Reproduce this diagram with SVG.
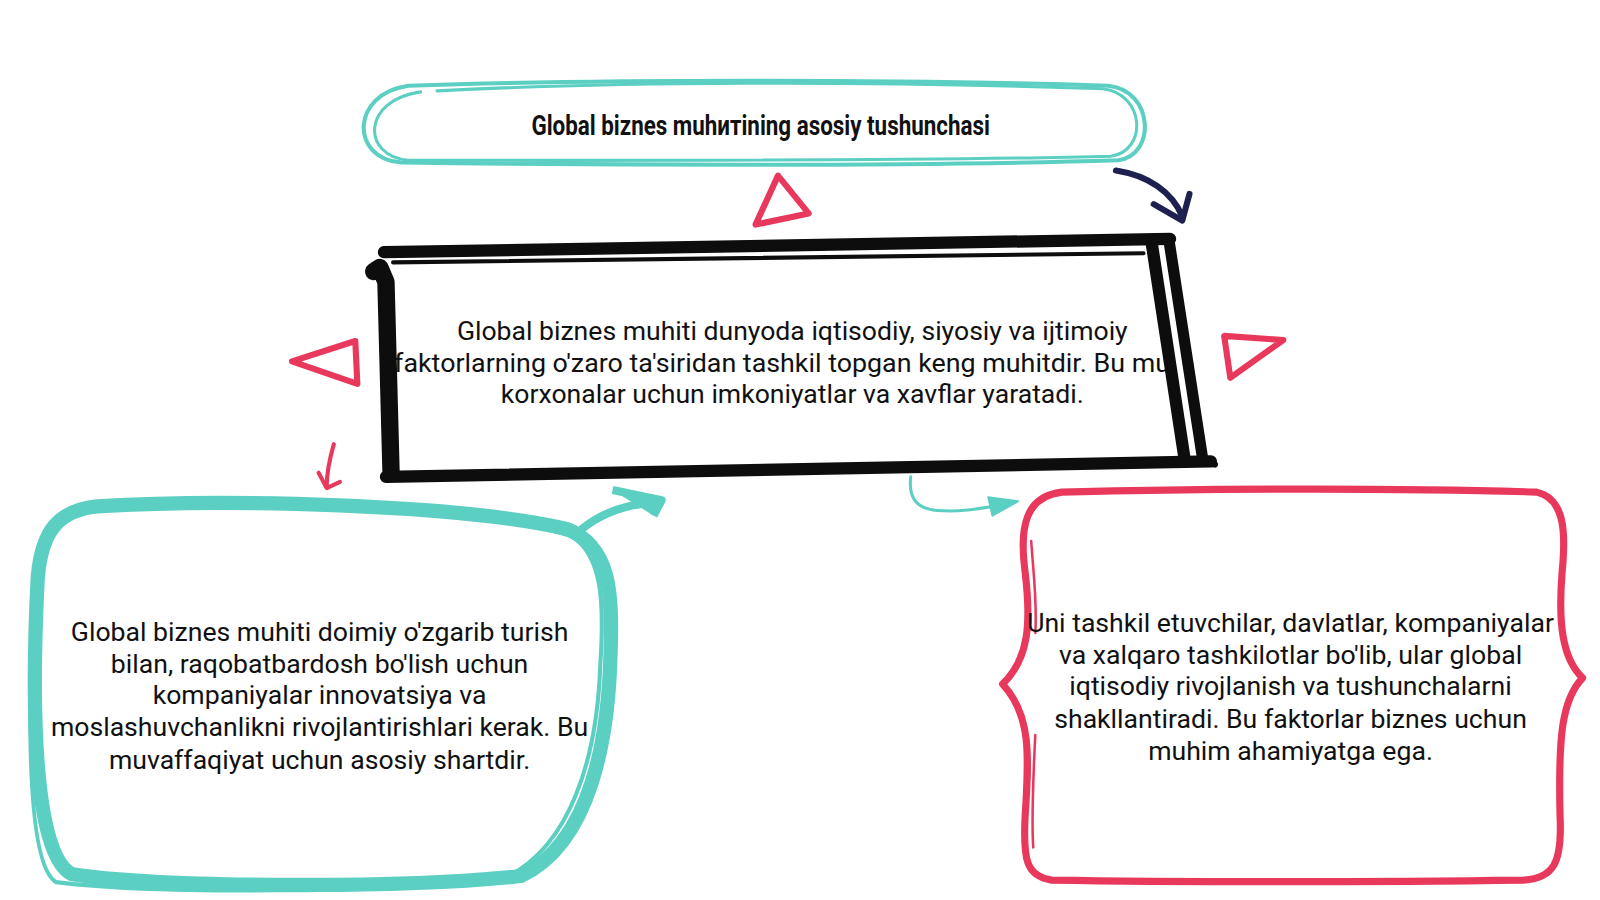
<svg xmlns="http://www.w3.org/2000/svg" width="1600" height="900" viewBox="0 0 1600 900">
<defs>
<style>
.teal{fill:none;stroke:#5ccfc3;stroke-linecap:round;stroke-linejoin:round}
.red{fill:none;stroke:#e8395d;stroke-linecap:round;stroke-linejoin:round}
.blk{fill:none;stroke:#0d0d0d;stroke-linecap:round;stroke-linejoin:round}
.body{font-family:Roboto,"Liberation Sans",sans-serif;font-size:26.1px;fill:#111;text-anchor:middle}
.title{font-family:"Liberation Sans Narrow",Roboto,"Liberation Sans",sans-serif;font-weight:bold;font-size:27px;fill:#111;text-anchor:middle}
</style>
</defs>
<rect width="1600" height="900" fill="#ffffff"/>
<g transform="scale(1.021)">
<g id="connectors">
  <path d="M1093,167 C1125,172 1148,188 1158,212" fill="none" stroke="#1e2150" stroke-width="6" stroke-linecap="round"/>
  <path d="M1130,200 L1158,216 L1165,190" fill="none" stroke="#1e2150" stroke-width="6" stroke-linecap="round" stroke-linejoin="round"/>
  <path d="M570,518 C590,502 615,494 640,492" class="teal" stroke-width="8"/>
  <path d="M600,480 L648,490 L640,505" fill="#5ccfc3" stroke="#5ccfc3" stroke-width="8" stroke-linejoin="round"/>
  <path d="M892,467 C890,485 895,498 918,500 C945,502 965,497 985,494" class="teal" stroke-width="3"/>
  <path d="M968,487 L997,491 L972,505 Z" fill="#5ccfc3" stroke="#5ccfc3" stroke-width="2" stroke-linejoin="round"/>
  <path d="M327,435 C322,452 320,465 320,477" class="red" stroke-width="4"/>
  <path d="M312,463 L320,478 L333,472" class="red" stroke-width="4"/>
</g>

<g id="decorations">
  <path d="M762,172 L792,209 L740,220 Z" class="red" stroke-width="6"/>
  <path d="M348,334 L286,354 L350,376 Z" class="red" stroke-width="6"/>
  <path d="M1199,329 L1257,333 L1205,370 Z" class="red" stroke-width="6"/>
</g>

<g id="node-title">
  <path d="M400,84 C600,77 900,78 1085,84 C1130,88 1133,152 1095,157 C900,163 600,162 392,159 C343,155 343,92 400,84 Z" class="teal" stroke-width="4"/>
  <path d="M428,89 C600,80 850,79 1080,87 C1122,92 1124,148 1088,153 C900,158 600,157 400,157 C354,153 354,98 412,90" class="teal" stroke-width="3"/>
  <text x="745" y="132" class="title" textLength="449" lengthAdjust="spacingAndGlyphs">Global biznes muhитining asosiy tushunchasi</text>
</g>

<g id="node-main">
  <text class="body" x="776" y="333" textLength="657" lengthAdjust="spacingAndGlyphs">Global biznes muhiti dunyoda iqtisodiy, siyosiy va ijtimoiy</text>
  <text class="body" x="386" y="364" style="text-anchor:start" textLength="760" lengthAdjust="spacingAndGlyphs">faktorlarning o'zaro ta'siridan tashkil topgan keng muhitdir. Bu mu</text>
  <text class="body" x="776" y="395" textLength="571" lengthAdjust="spacingAndGlyphs">korxonalar uchun imkoniyatlar va xavflar yaratadi.</text>
  <path d="M376,247 L1146,234" class="blk" stroke-width="12"/>
  <path d="M385,257 L1120,248" class="blk" stroke-width="4"/>
  <path d="M366,266 L372,262 L378,276 L383,462" class="blk" stroke-width="17"/>
  <path d="M378,467 L1186,452" class="blk" stroke-width="12"/>
  <path d="M1128,238 L1160,448" class="blk" stroke-width="12"/>
  <path d="M1145,236 L1178,450" class="blk" stroke-width="11"/>
  <path d="M1160,450 L1190,455" class="blk" stroke-width="6"/>
</g>

<g id="node-left">
  <path d="M95,496 C220,488 450,494 555,518 C598,535 600,580 598,640 C596,720 580,825 510,858 C400,870 160,870 70,856 C34,838 30,700 37,565 C41,520 57,500 95,496 Z" class="teal" stroke-width="14"/>
  <path d="M130,495 C300,492 480,500 560,525 C590,545 592,590 588,650 C585,740 560,832 490,862 C380,874 150,876 55,864 C28,848 27,720 32,600" class="teal" stroke-width="4"/>
  <text class="body" x="313" y="628">Global biznes muhiti doimiy o'zgarib turish</text>
  <text class="body" x="313" y="659">bilan, raqobatbardosh bo'lish uchun</text>
  <text class="body" x="313" y="690">kompaniyalar innovatsiya va</text>
  <text class="body" x="313" y="721">moslashuvchanlikni rivojlantirishlari kerak. Bu</text>
  <text class="body" x="313" y="753">muvaffaqiyat uchun asosiy shartdir.</text>
</g>

<g id="node-right">
  <path d="M1040,482 C1200,478 1380,478 1505,482 C1532,488 1534,520 1530,560 C1526,610 1530,645 1550,664 C1530,685 1526,720 1528,800 C1530,845 1522,860 1492,862 C1350,864 1150,864 1030,862 C1005,858 1002,842 1004,800 C1008,740 1010,700 982,670 C1008,645 1010,610 1004,560 C998,515 1005,486 1040,482 Z" class="red" stroke-width="7"/>
  <path d="M1010,530 C1012,560 1016,590 1014,620 M1014,720 C1012,760 1010,800 1012,830" class="red" stroke-width="2.5"/>
  <text class="body" x="1264" y="619">Uni tashkil etuvchilar, davlatlar, kompaniyalar</text>
  <text class="body" x="1264" y="650">va xalqaro tashkilotlar bo'lib, ular global</text>
  <text class="body" x="1264" y="681">iqtisodiy rivojlanish va tushunchalarni</text>
  <text class="body" x="1264" y="713">shakllantiradi. Bu faktorlar biznes uchun</text>
  <text class="body" x="1264" y="744">muhim ahamiyatga ega.</text>
</g>
</g>
</svg>
